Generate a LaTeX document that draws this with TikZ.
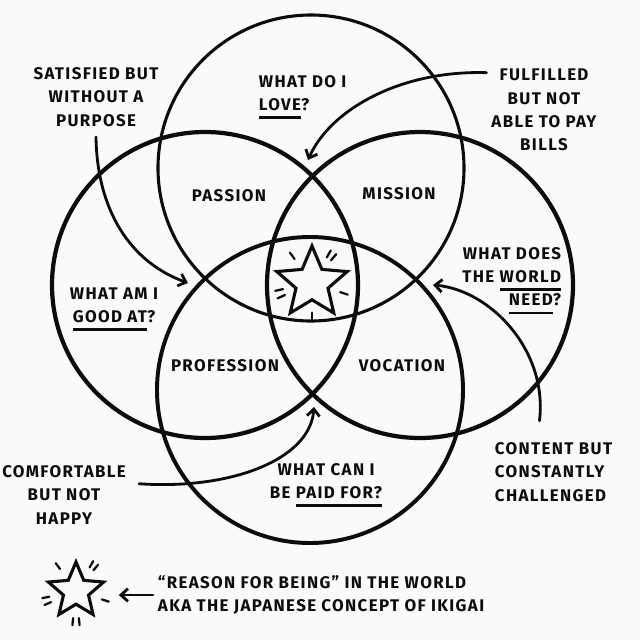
\documentclass[tikz,border=0pt]{standalone}
\usepackage{fontspec}
\usetikzlibrary{arrows.meta,positioning,shapes.geometric}
\newfontfamily\hand[LetterSpace=8]{Fira Sans}
\definecolor{ink}{RGB}{12,12,12}
\definecolor{paper}{RGB}{250,250,250}
\newcommand{\penline}[1]{\setbox0\hbox{#1}%
  \leavevmode\rlap{\rule[-6pt]{\wd0}{2pt}}\box0}

\begin{document}
\begin{tikzpicture}[
  x=0.025cm, y=-0.025cm,
  ring/.style={draw=ink, line width=2.6pt},
  lbl/.style={
    text=ink,
    align=center,
    font=\hand\bfseries\fontsize{12}{16.5}\selectfont
  },
  arrow/.style={
    draw=ink,
    line width=2pt,
    line cap=round,
    -{Straight Barb[length=5pt,width=9pt]}
  },
  spark/.style={draw=ink, line width=1.6pt, line cap=round},
  starbox/.style={
    star, star points=5, star point ratio=2.2,
    draw=ink, line width=2.2pt, inner sep=0pt
  }
]
\fill[paper] (0,0) rectangle (640,640);
\useasboundingbox (0,0) rectangle (640,640);

\coordinate (ctop) at (311,168);
\coordinate (cleft) at (205,285);
\coordinate (cright) at (420,285);
\coordinate (cbot) at (310,390);
\draw[ring,line width=2.2pt] (ctop) circle[radius=153];
\draw[ring,line width=3pt] (cleft) circle[radius=153];
\draw[ring,line width=3pt] (cright) circle[radius=153];
\draw[ring,line width=2.8pt] (cbot) circle[radius=153];

\node[lbl,align=left,anchor=west] (love) at (254,97)
  {WHAT DO I\\\penline{LOVE}?};
\node[lbl] (passion) at (229,196) {PASSION};
\node[lbl] (mission) at (399,194) {MISSION};
\node[lbl,align=right,anchor=east] (world) at (566,281)
  {WHAT DOES\\THE \penline{WORLD}\\\penline{NEED}?};
\node[lbl] (good) at (114,309) {WHAT AM I\\\penline{GOOD AT}?};
\node[lbl] (profession) at (225,366) {PROFESSION};
\node[lbl] (vocation) at (402,366) {VOCATION};
\node[lbl] (paid) at (326,485) {WHAT CAN I\\BE \penline{PAID FOR?}};

\node[lbl] (satisfied) at (96,97) {SATISFIED BUT\\WITHOUT A\\PURPOSE};
\node[lbl] (fulfilled) at (544,110)
  {FULFILLED\\BUT NOT\\ABLE TO PAY\\BILLS};
\node[lbl,align=left,anchor=west] (content) at (490,472)
  {CONTENT BUT\\CONSTANTLY\\CHALLENGED};
\node[lbl] (comfortable) at (64,495) {COMFORTABLE\\BUT NOT\\HAPPY};

\coordinate (sp) at (188,283);
\coordinate (fp) at (308,160);
\coordinate (cp) at (433,285);
\coordinate (hp) at (314,407);
\draw[arrow] ([yshift=-4pt]satisfied.south)
  .. controls (97,210) and (130,262) .. (sp);
\draw[arrow] ([yshift=-6pt]fulfilled.north west)
  .. controls (400,70) and (330,110) .. (fp);
\draw[arrow] ([shift={(-10pt,12pt)}]content.north)
  .. controls (548,350) and (490,290) .. (cp);
\draw[arrow] ([shift={(6pt,8pt)}]comfortable.east)
  .. controls (230,490) and (310,460) .. (hp);

\node[starbox,minimum size=1.85cm] (burst) at (312,283) {};
\foreach \a in {126,50,60,-18,-90,192,204}
  \draw[spark] ([shift={(\a:0.74cm)}]burst.center)
    -- ([shift={(\a:0.94cm)}]burst.center);

\node[starbox,minimum size=1.45cm] (mini) at (76,591) {};
\foreach \a in {126,50,60,-18,-84,-96,192,204}
  \draw[spark] ([shift={(\a:0.68cm)}]mini.center)
    -- ([shift={(\a:0.86cm)}]mini.center);
\node[lbl,align=left,anchor=west] (reason) at (153,595)
  {“REASON FOR BEING” IN THE WORLD\\AKA THE JAPANESE CONCEPT OF IKIGAI};
\draw[arrow,shorten >=1.07cm] (reason.west) -- (mini.center |- reason.west);
\end{tikzpicture}
\end{document}
